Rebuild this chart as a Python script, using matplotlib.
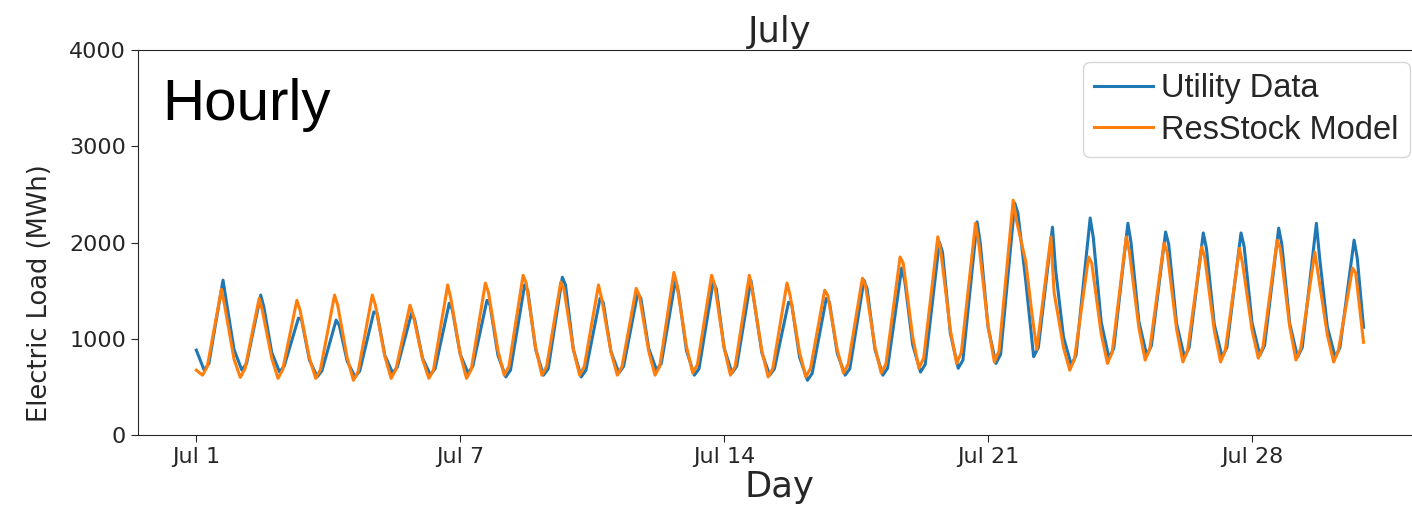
import matplotlib.pyplot as plt

N_DAYS = 31

# daily readings, one value per day (MWh)
UTIL_HOURS = [0, 5, 8, 17, 19]
UTIL_MIDNIGHT = [883, 890, 860, 780, 770, 830, 800, 840, 830, 890, 890, 865, 900, 880, 905, 855,
                 810, 850, 890, 940, 1055, 1120, 1600, 1020, 1175, 1180, 1160, 1150, 1170, 1160, 1120]
UTIL_TROUGH = [675, 675, 655, 605, 605, 645, 625, 645, 605, 623, 605, 645, 675, 623, 645, 623,
               570, 623, 623, 655, 695, 745, 815, 727, 800, 830, 810, 810, 830, 810, 810]
UTIL_MORNING = [745, 745, 720, 670, 665, 710, 690, 715, 675, 690, 675, 715, 745, 690, 715, 690,
                640, 690, 695, 735, 780, 840, 910, 830, 900, 930, 910, 910, 930, 910, 910]
UTIL_PEAK = [1610, 1455, 1215, 1195, 1280, 1265, 1370, 1400, 1560, 1640, 1420, 1475, 1610, 1590, 1610, 1380,
             1420, 1610, 1735, 2005, 2215, 2410, 2160, 2255, 2200, 2110, 2100, 2100, 2150, 2200, 2025]
UTIL_EVENING = [1400, 1330, 1200, 1140, 1270, 1200, 1300, 1350, 1500, 1560, 1380, 1420, 1475, 1520, 1400, 1360,
                1380, 1520, 1600, 1900, 2000, 2305, 1715, 2050, 2000, 1980, 1940, 1960, 1980, 1850, 1840]
UTIL_LAST = 1120

MODEL_HOURS = [0, 4, 7, 16, 18]
MODEL_MIDNIGHT = [675, 790, 800, 800, 805, 820, 790, 840, 880, 910, 890, 860, 870, 920, 905, 875,
                  860, 885, 915, 1020, 1090, 1135, 1800, 910, 1055, 1115, 1100, 1085, 1095, 1130, 1040]
MODEL_TROUGH = [623, 600, 590, 590, 570, 590, 590, 590, 623, 623, 623, 623, 623, 645, 623, 605,
                605, 645, 645, 695, 745, 760, 1250, 675, 745, 780, 760, 760, 800, 780, 760]
MODEL_MORNING = [715, 690, 680, 680, 660, 680, 680, 680, 715, 715, 715, 715, 715, 735, 715, 695,
                 695, 740, 740, 800, 860, 875, 890, 790, 860, 900, 880, 880, 920, 900, 880]
MODEL_PEAK = [1515, 1420, 1400, 1455, 1455, 1350, 1560, 1580, 1660, 1590, 1560, 1525, 1690, 1660, 1660, 1580,
              1505, 1630, 1850, 2060, 2200, 2440, 2060, 1850, 2060, 1995, 1955, 1940, 2025, 1900, 1735]
MODEL_EVENING = [1350, 1300, 1300, 1350, 1350, 1250, 1420, 1480, 1580, 1520, 1420, 1450, 1560, 1560, 1500, 1450,
                 1450, 1550, 1785, 1900, 2005, 2235, 1485, 1785, 1900, 1900, 1840, 1785, 1940, 1685, 1685]
MODEL_LAST = 965

TICK_DAYS = [0, 7, 14, 21, 28]
TICK_LABELS = ['Jul 1', 'Jul 7', 'Jul 14', 'Jul 21', 'Jul 28']

GREY = '#262626'


def build_series(hours, columns, last):
    '''Flatten the per-day columns into (day, load) pairs in time order.'''
    t, v = [], []
    for d in range(N_DAYS):
        for h, col in zip(hours, columns):
            t.append(d + h / 24)
            v.append(col[d])
    t.append(N_DAYS - 1 + 23 / 24)
    v.append(last)
    return t, v


def main():
    util_t, util_v = build_series(UTIL_HOURS, [UTIL_MIDNIGHT, UTIL_TROUGH, UTIL_MORNING, UTIL_PEAK, UTIL_EVENING], UTIL_LAST)
    model_t, model_v = build_series(MODEL_HOURS, [MODEL_MIDNIGHT, MODEL_TROUGH, MODEL_MORNING, MODEL_PEAK, MODEL_EVENING], MODEL_LAST)

    fig = plt.figure(figsize=(14.12, 5.15), dpi=100)
    # axes runs a little past the right edge of the figure
    ax = fig.add_axes([0.0977, 0.155, 0.9093, 0.748])

    ax.plot(util_t, util_v, color='#1f77b4', lw=2.2, label='Utility Data')
    ax.plot(model_t, model_v, color='#ff7f0e', lw=2.2, label='ResStock Model')

    ax.set_ylim(0, 4000)
    ax.set_yticks([0, 1000, 2000, 3000, 4000])
    ax.set_xticks(TICK_DAYS)
    ax.set_xticklabels(TICK_LABELS)
    ax.tick_params(labelsize=16, colors=GREY, length=5)
    for s in ax.spines.values():
        s.set_color(GREY)

    ax.set_title('July', fontsize=25.5, color=GREY)
    ax.set_xlabel('Day', fontsize=25.5, color=GREY, labelpad=2)
    ax.set_ylabel('Electric Load (MWh)', fontsize=18.5, color=GREY)
    ax.yaxis.set_label_coords(-0.066, 0.369)

    ax.text(0.019, 0.818, 'Hourly', transform=ax.transAxes, fontsize=42,
            family='Liberation Sans', va='baseline', color='black')

    leg = ax.legend(loc='upper right', prop={'family': 'Liberation Sans', 'size': 23.5},
                    handlelength=1.8, handletextpad=0.25, borderpad=0.34, labelspacing=0.32,
                    borderaxespad=0.37, fancybox=True, framealpha=0.8, edgecolor='#cccccc')
    for txt in leg.get_texts():
        txt.set_color(GREY)

    plt.savefig('out.png', dpi=100)


if __name__ == '__main__':
    main()
